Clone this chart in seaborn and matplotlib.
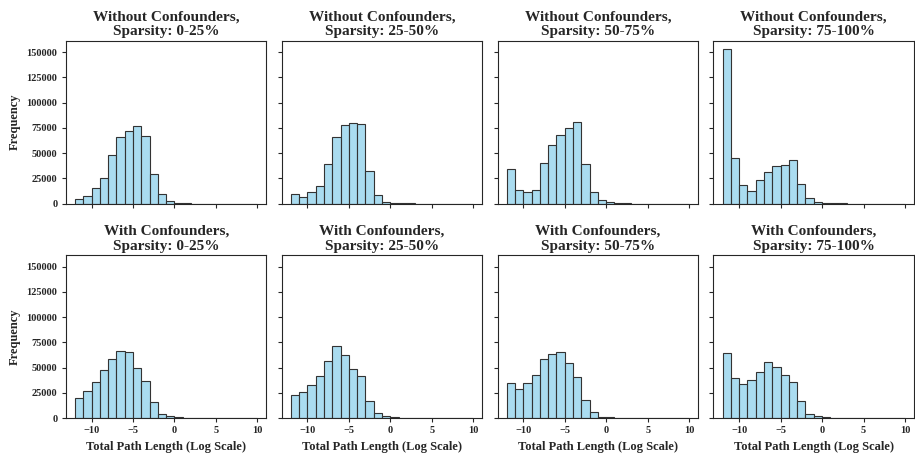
import seaborn as sns
import pandas as pd
import numpy as np
import matplotlib.pyplot as plt

# bin left edges of the log path length histogram (width 1, from -12 to 10)
bin_edges = list(range(-12, 11))

# counts per bin, without confounders
no_conf_0_25 = [4600, 7200, 15500, 25000, 48400, 66400, 72000, 76600, 67100, 29300, 9900, 3000,
                1000, 300, 120, 60, 30, 15, 8, 4, 2, 1]
no_conf_25_50 = [9900, 6600, 11800, 17800, 39100, 66400, 78300, 79600, 78600, 31900, 8200, 2000,
                 1000, 500, 200, 100, 50, 25, 10, 5, 2, 1]
no_conf_50_75 = [34500, 13800, 11500, 13800, 40100, 57600, 68400, 74700, 81200, 39100, 11200, 3300,
                 2000, 600, 200, 100, 50, 25, 10, 5, 2, 1]
no_conf_75_100 = [153600, 45400, 18100, 12500, 23000, 31300, 37200, 38200, 43400, 19700, 5600, 2000,
                  1000, 500, 200, 100, 50, 25, 10, 5, 2, 1]

# counts per bin, with confounders
conf_0_25 = [20100, 26600, 36200, 47400, 58600, 66400, 65800, 50000, 37200, 16100, 4300, 2000,
             1000, 300, 120, 60, 30, 15, 8, 4, 2, 1]
conf_25_50 = [22400, 26300, 32600, 42100, 56900, 71400, 62200, 49000, 41800, 17400, 4600, 2300,
              1000, 300, 120, 60, 30, 15, 8, 4, 2, 1]
conf_50_75 = [34900, 28900, 34500, 42800, 58200, 63200, 65100, 54600, 40800, 17800, 5900, 1300,
              1000, 300, 120, 60, 30, 15, 8, 4, 2, 1]
conf_75_100 = [64500, 39800, 33900, 37800, 45400, 55300, 50300, 42800, 36200, 16800, 4300, 2000,
               700, 300, 120, 60, 30, 15, 8, 4, 2, 1]

sparsity_labels = ["0-25%", "25-50%", "50-75%", "75-100%"]
rows = [
    ("Without Confounders", [no_conf_0_25, no_conf_25_50, no_conf_50_75, no_conf_75_100]),
    ("With Confounders", [conf_0_25, conf_25_50, conf_50_75, conf_75_100]),
]

sns.set_style("ticks")
plt.rcParams['font.family'] = ['Liberation Serif', 'DejaVu Serif']
plt.rcParams['font.weight'] = 'bold'

centers = np.array(bin_edges[:-1]) + 0.5

fig, axes = plt.subplots(2, 4, figsize=(9.15, 4.53), dpi=100, sharex=True, sharey=True)
for r, (name, series) in enumerate(rows):
    for c, counts in enumerate(series):
        ax = axes[r, c]
        df = pd.DataFrame({'length': centers, 'count': counts})
        sns.histplot(data=df, x='length', weights='count', bins=bin_edges, ax=ax,
                     color='skyblue', edgecolor='#333333', alpha=0.7, linewidth=0.8)
        ax.set_title(f"{name},\nSparsity: {sparsity_labels[c]}", fontsize=11, fontweight='bold',
                     pad=4)
        ax.set_xlabel("Total Path Length (Log Scale)" if r == 1 else "", fontsize=9,
                      fontweight='bold')
        ax.set_ylabel("Frequency" if c == 0 else "", fontsize=9, fontweight='bold')
        ax.tick_params(labelsize=7.5, length=3, pad=3)
        for lab in ax.get_xticklabels() + ax.get_yticklabels():
            lab.set_fontweight('bold')
        if r == 0:
            ax.tick_params(labelbottom=False)

axes[0, 0].set_xticks([-10, -5, 0, 5, 10])
axes[0, 0].set_yticks([0, 25000, 50000, 75000, 100000, 125000, 150000])

plt.subplots_adjust(left=0.072, right=0.999, top=0.91, bottom=0.077, wspace=0.076, hspace=0.317)
plt.savefig("out.png", dpi=100)
